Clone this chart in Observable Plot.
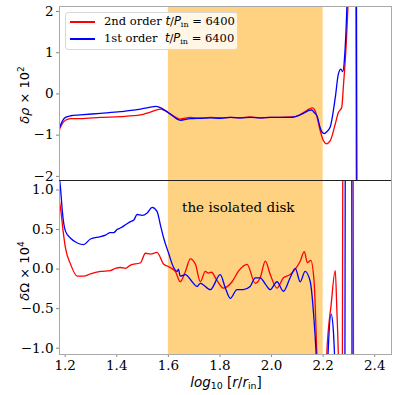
<!DOCTYPE html>
<html>
<head>
<meta charset="utf-8">
<script src="https://cdn.jsdelivr.net/npm/d3@7"></script>
<script src="https://cdn.jsdelivr.net/npm/@observablehq/plot@0.6"></script>
<style>
  body { margin: 0; background: #fff; }
  #wrap { position: relative; width: 396px; height: 395px; overflow: hidden; background: #fff; }
  .panel { position: absolute; left: 0; }
  .panel svg { overflow: visible; }
  g[aria-label$="tick"] path, g[aria-label$="axis"] path, g[aria-label$="axis"] line { stroke: #888; }
  .ylab { position: absolute; font-family: "DejaVu Sans"; font-size: 13px; white-space: nowrap; transform: translate(-50%, -50%) rotate(-90deg); }
  .xlab { position: absolute; font-family: "DejaVu Sans"; font-size: 13.5px; white-space: nowrap; transform: translate(-50%, -50%); }
  #legend { position: absolute; left: 65px; top: 12px; width: 171px; height: 36px; border: 1px solid #d8d8d8; border-radius: 3px; background: rgba(255,255,255,0.8); }
  .lrow { position: absolute; left: 0; font-family: "DejaVu Serif"; font-size: 11.5px; white-space: pre; }
  .sw { position: absolute; left: 4px; width: 25px; height: 1.5px; }
  .ltxt { position: absolute; left: 38px; }
  .m { font-family: "DejaVu Sans"; font-style: italic; }
  sub { font-size: 0.7em; vertical-align: -0.25em; line-height: 0; }
  #anno { position: absolute; left: 182px; top: 199px; font-family: "DejaVu Serif"; font-size: 13.5px; white-space: nowrap; }
  #sep { position: absolute; left: 59px; top: 180px; width: 332px; height: 0; border-top: 1px solid #222; }
</style>
</head>
<body>
<div id="wrap">
  <div id="topPanel" class="panel" style="top:0px"></div>
  <div id="botPanel" class="panel" style="top:180px"></div>
  <div id="sep"></div>
  <div id="anno">the isolated disk</div>
  <div id="legend">
    <div class="sw" style="top:8px;background:red"></div>
    <div class="lrow ltxt" style="top:1px">2nd order <span class="m">t</span>/<span class="m">P</span><sub>in</sub> = 6400</div>
    <div class="sw" style="top:25px;background:blue"></div>
    <div class="lrow ltxt" style="top:18px">1st order  <span class="m">t</span>/<span class="m">P</span><sub>in</sub> = 6400</div>
  </div>
  <div class="ylab" style="left:24px; top:95px"><i>δρ</i> × 10<sup style="font-size:0.7em">2</sup></div>
  <div class="ylab" style="left:24px; top:271px"><i>δ</i>Ω × 10<sup style="font-size:0.7em">4</sup></div>
  <div class="xlab" style="left:226px; top:382px"><i>log</i><sub>10</sub> [<i>r</i>/<i>r</i><sub>in</sub>]</div>
</div>
<script>
// ---- data ----
const diskRange = [1.6, 2.2];

const rhoX2 = [1.178,1.189,1.201,1.221,1.259,1.337,1.414,1.492,1.530,1.569,1.585,1.608,1.646,1.685,1.724,1.763,1.801,1.840,1.879,1.917,1.956,1.995,2.033,2.072,2.092,2.111,2.130,2.145,2.159,2.168,2.176,2.188,2.200,2.212,2.227,2.247,2.259,2.272,2.279,2.288,2.296,2.305,2.320,2.326,2.330,2.340];
const rho2nd = [-0.86,-0.72,-0.64,-0.60,-0.60,-0.57,-0.55,-0.51,-0.44,-0.37,-0.40,-0.49,-0.61,-0.57,-0.59,-0.57,-0.58,-0.57,-0.58,-0.56,-0.58,-0.57,-0.57,-0.56,-0.55,-0.50,-0.43,-0.37,-0.34,-0.40,-0.55,-0.88,-1.12,-1.21,-1.14,-0.73,-0.45,-0.33,0.23,1.04,2.1,4,8,6,-6,-8];

const rhoX1 = [1.178,1.189,1.201,1.221,1.259,1.337,1.414,1.492,1.530,1.550,1.569,1.608,1.646,1.685,1.724,1.763,1.801,1.840,1.879,1.917,1.956,1.995,2.033,2.072,2.092,2.111,2.130,2.145,2.156,2.165,2.176,2.188,2.196,2.204,2.212,2.227,2.247,2.259,2.269,2.276,2.283,2.292,2.300,2.320,2.328,2.332,2.340];
const rho1st = [-0.82,-0.66,-0.57,-0.53,-0.51,-0.47,-0.43,-0.37,-0.32,-0.30,-0.33,-0.49,-0.64,-0.60,-0.59,-0.58,-0.59,-0.57,-0.58,-0.57,-0.58,-0.57,-0.57,-0.57,-0.55,-0.51,-0.45,-0.40,-0.39,-0.45,-0.53,-0.81,-0.93,-0.96,-0.93,-0.81,-0.09,0.48,0.60,0.54,0.88,2.1,4,8,6,-6,-8];

const omX2 = [1.178,1.182,1.192,1.201,1.221,1.247,1.272,1.298,1.337,1.375,1.395,1.414,1.434,1.453,1.492,1.511,1.530,1.556,1.582,1.601,1.627,1.646,1.666,1.685,1.705,1.724,1.743,1.755,1.767,1.786,1.813,1.847,1.871,1.905,1.937,1.956,1.976,1.995,2.021,2.046,2.072,2.092,2.111,2.127,2.139,2.152,2.165,2.176,2.190,2.200,2.214,2.231,2.247,2.253,2.259,2.268,2.274,2.278,2.300,2.315,2.319,2.330];
const om2nd = [0.85,0.77,0.48,0.27,0.06,-0.09,-0.09,-0.06,-0.03,-0.02,0.01,0.02,0.01,0.05,0.08,0.20,0.19,0.21,0.06,0.03,-0.03,-0.16,-0.03,0.13,0.06,-0.16,-0.03,-0.05,-0.04,-0.13,-0.24,-0.16,-0.03,0.06,-0.18,-0.11,0.10,-0.07,-0.24,-0.11,-0.07,0.0,0.10,0.22,0.08,0.11,-0.16,-1.1,-2,-2.5,-1.08,-0.45,-0.02,-0.5,-1.1,-3,-2,4,6,4,-4,-6];

const omX1 = [1.178,1.182,1.189,1.201,1.221,1.247,1.272,1.298,1.337,1.356,1.375,1.388,1.401,1.414,1.434,1.453,1.466,1.479,1.498,1.518,1.537,1.556,1.569,1.582,1.601,1.619,1.634,1.639,1.646,1.666,1.692,1.711,1.724,1.763,1.801,1.821,1.840,1.866,1.890,1.917,1.937,1.956,1.976,1.995,2.021,2.046,2.072,2.092,2.111,2.130,2.150,2.163,2.176,2.190,2.210,2.219,2.231,2.240,2.247,2.270,2.283,2.287,2.305,2.310,2.313,2.330];
const om1st = [1.15,1.02,0.73,0.48,0.39,0.33,0.31,0.38,0.41,0.43,0.46,0.46,0.50,0.52,0.56,0.60,0.62,0.69,0.68,0.71,0.78,0.73,0.56,0.39,0.20,0.03,-0.03,0.0,-0.09,-0.07,-0.16,-0.22,-0.18,-0.26,-0.07,-0.24,-0.37,-0.26,-0.26,-0.22,-0.11,-0.11,-0.19,-0.26,-0.16,-0.28,-0.11,0.01,-0.16,-0.03,-0.16,-0.57,-1.3,-3,-2,-1.08,-0.57,-0.8,-1.3,-3,-4,4,6,4,-4,-6];

const rhoTicks = [-2, -1, 0, 1, 2];
const omTicks = [-1, -0.5, 0, 0.5, 1];
const xTicks = [1.2, 1.4, 1.6, 1.8, 2.0, 2.2, 2.4];

// ---- build ----
const pts = (xs, ys) => xs.map((x, i) => ({x, y: ys[i]}));
const xDomain = [1.178, 2.465];
const shade = "#fed280";
const lw = 1.3;
const baseStyle = {background: "transparent", fontFamily: "DejaVu Serif", fontSize: "13.5px", color: "black", overflow: "visible"};

const topChart = Plot.plot({
  width: 396, height: 181,
  marginLeft: 59, marginRight: 5, marginTop: 6, marginBottom: 1,
  style: baseStyle,
  x: {domain: xDomain, axis: null},
  y: {domain: [-2.1, 2.12], ticks: rhoTicks, tickFormat: d3.format("d"), tickSize: 3, tickPadding: 3, label: null},
  marks: [
    Plot.rect([diskRange], {x1: d => d[0], x2: d => d[1], fill: shade}),
    Plot.line(pts(rhoX2, rho2nd), {x: "x", y: "y", stroke: "red", strokeWidth: lw, curve: "monotone-x", clip: true}),
    Plot.line(pts(rhoX1, rho1st), {x: "x", y: "y", stroke: "blue", strokeWidth: lw, curve: "monotone-x", clip: true}),
    Plot.frame({stroke: "#aaa"})
  ]
});
document.getElementById("topPanel").appendChild(topChart);

const botChart = Plot.plot({
  width: 396, height: 215,
  marginLeft: 59, marginRight: 5, marginTop: 0, marginBottom: 41,
  style: baseStyle,
  x: {domain: xDomain, ticks: xTicks, tickFormat: d3.format(".1f"), tickSize: 3, tickPadding: 3, label: null},
  y: {domain: [-1.08, 1.12], ticks: omTicks, tickFormat: d3.format(".1f"), tickSize: 3, tickPadding: 3, label: null},
  marks: [
    Plot.rect([diskRange], {x1: d => d[0], x2: d => d[1], fill: shade}),
    Plot.line(pts(omX2, om2nd), {x: "x", y: "y", stroke: "red", strokeWidth: lw, curve: "monotone-x", clip: true}),
    Plot.line(pts(omX1, om1st), {x: "x", y: "y", stroke: "blue", strokeWidth: lw, curve: "monotone-x", clip: true}),
    Plot.frame({stroke: "#aaa"})
  ]
});
document.getElementById("botPanel").appendChild(botChart);
</script>
</body>
</html>
